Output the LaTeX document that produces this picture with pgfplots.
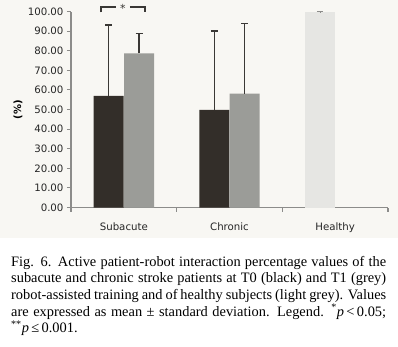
\documentclass[border=0pt]{standalone}
\usepackage{pgfplots}
\pgfplotsset{compat=1.18}
\usepackage{fontspec}
\setmainfont{Liberation Serif}
\newfontfamily\chartfont{DejaVu Sans}

\definecolor{panelbg}{HTML}{F8F7F3}
\definecolor{tzero}{HTML}{332E29}
\definecolor{tone}{HTML}{9B9C98}
\definecolor{healthy}{HTML}{E6E6E3}
\definecolor{axisgrey}{HTML}{8C8C8A}
\definecolor{errgrey}{HTML}{3A3835}

\begin{document}
\begin{tikzpicture}[x=1bp,y=1bp]
  \path[use as bounding box] (0,0) rectangle (398,-347);
  \fill[white] (0,0) rectangle (398,-347);
  \fill[panelbg] (0,0) rectangle (398,-238);
  \begin{axis}[
      at={(71bp,-207.5bp)}, anchor=south west,
      scale only axis, width=317bp, height=196bp,
      xmin=0, xmax=3, ymin=0, ymax=100,
      axis x line*=bottom, axis y line*=left,
      axis line style={axisgrey, line width=1.1bp, -},
      every tick/.style={axisgrey, line width=1.1bp},
      tick align=outside, major tick length=4bp,
      xtick={0,1,2,3}, xticklabels={},
      extra x ticks={0.5,1.5,2.5},
      extra x tick labels={Subacute,Chronic,Healthy},
      extra x tick style={major tick length=0pt,
        xticklabel style={yshift=-12bp}},
      ytick={0,10,...,100},
      yticklabel style={/pgf/number format/.cd, fixed, fixed zerofill, precision=2, assume math mode=true},
      ticklabel style={font=\chartfont\fontsize{10.2bp}{12bp}\selectfont, text=black!85},
      ylabel={\textbf{(\%)}},
      ylabel style={font=\chartfont\fontsize{10bp}{12bp}\selectfont, at={(axis description cs:-0.142,0.5)}},
      clip=false,
      error bars/error mark=|,
      error bars/error bar style={draw=errgrey, line width=1.4bp},
      error bars/error mark options={draw=errgrey, line width=1.4bp, mark size=3.5bp},
    ]
    % T0 (black)
    \addplot[ybar, bar width=30bp, bar shift=0pt, fill=tzero, draw=none,
      error bars/.cd, y dir=plus, y explicit]
      coordinates {(0.356,57.0) +- (0,36.2) (1.356,49.8) +- (0,40.3)};
    % T1 (grey)
    \addplot[ybar, bar width=30bp, bar shift=0pt, fill=tone, draw=none,
      error bars/.cd, y dir=plus, y explicit]
      coordinates {(0.644,78.6) +- (0,10.2) (1.644,58.1) +- (0,35.8)};
    % Healthy subjects
    \addplot[ybar, bar width=30bp, bar shift=0pt, fill=healthy, draw=none,
      error bars/.cd, y dir=plus, y explicit,
      error bar style={draw=axisgrey, line width=0.8bp},
      error mark options={draw=axisgrey, line width=0.8bp, mark size=3bp}]
      coordinates {(2.356,99.8) +- (0,0.2)};
    % significance bracket
    \draw[errgrey, line width=1.2bp]
      (axis cs:0.284,99.6) -- (axis cs:0.284,102.3) -- (axis cs:0.428,102.3)
      (axis cs:0.556,102.3) -- (axis cs:0.70,102.3) -- (axis cs:0.70,99.6);
    \node[font=\chartfont\fontsize{11bp}{12bp}\selectfont, text=errgrey] at (axis cs:0.492,101.8) {*};
  \end{axis}
  \node[anchor=north west, inner sep=0pt, align=left,
        font=\fontsize{14.4bp}{16.6bp}\selectfont] at (11bp,-256bp) {%
    \hbox to 375bp{Fig. 6. Active patient-robot interaction percentage values of the}\\
    \hbox to 375bp{subacute and chronic stroke patients at T0 (black) and T1 (grey)}\\
    \hbox to 375bp{robot-assisted training and of healthy subjects (light grey). Values}\\
    \hbox to 375bp{are expressed as mean ± standard deviation. Legend. \textsuperscript{*}\textit{p}\,<\,0.05;}\\
    \textsuperscript{**}\textit{p}\,≤\,0.001.};
\end{tikzpicture}
\end{document}
